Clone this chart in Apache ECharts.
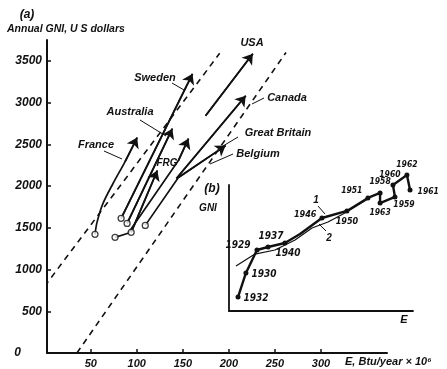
<!DOCTYPE html>
<html><head><meta charset="utf-8">
<script src="https://cdn.jsdelivr.net/npm/echarts@6/dist/echarts.min.js"></script>
<style>html,body{margin:0;padding:0;background:#fff}#c{width:447px;height:369px}</style>
</head><body><div id="c"></div>
<script>
// ---- main panel (a) ----
const yTicks = [0, 500, 1000, 1500, 2000, 2500, 3000, 3500];
const xTicks = [50, 100, 150, 200, 250, 300];

// country trajectories [E, GNI]; first point = start (circle), last = arrow head
const france = [[54.6,1422],[56.8,1565],[63.3,1792],[74.2,2031],[87.3,2294],[100.4,2581]];
const sweden = [[83.0,1613],[160.5,3345]];
const australia = [[89.5,1553],[138.6,2688]];
const frg = [[93.9,1446],[122.3,2186]];
const greatBritain = [[76.4,1386],[90.6,1434],[145.2,2306],[156.1,2569]];
const belgium = [[109.2,1529],[145.2,2103],[196.5,2485]];
const canada = [[143.0,2091],[218.3,3082]];
const usa = [[174.7,2843],[226.0,3584]];

// dashed band limits
const bandUpper = [[0,800],[190,3590]];
const bandLower = [[35,0],[262,3600]];

// ---- inset (b), relative units ----
const insetYears1 = ['1932','1930','1929','1937','1940','','1946','1950','1951','1958','1963','1959','1960','1962','1961'];
const insetCurve1 = [[4.9,11.1],[9.2,30.2],[15.2,48.4],[21.2,50.8],[30.4,54.0],[38.6,61.1],[50.5,73.8],[64.1,79.4],[75.5,89.7],[82.1,93.7],[82.1,85.7],[90.2,90.5],[89.1,100],[96.7,107.9],[98.4,96.0]];
const insetCurve2 = [[3.8,35.7],[14.1,45.2],[25.0,48.4],[35.9,56.3],[45.1,65.9],[53.8,70.6],[63.0,77.8],[75.5,88.9]];

// label placement (style only)
const yearLabelStyle = {
  '1932':{p:'right',o:[0,1],s:10}, '1930':{p:'right',o:[0,1],s:10}, '1929':{p:'left',o:[-1,-5],s:10},
  '1937':{p:'top',o:[3,0],s:10}, '1940':{p:'bottom',o:[3,0],s:10}, '1946':{p:'left',o:[0,-3],s:9},
  '1950':{p:'bottom',o:[0,1],s:9}, '1951':{p:'left',o:[0,-7],s:8.5}, '1958':{p:'top',o:[0,-1],s:8.5},
  '1963':{p:'bottom',o:[0,0],s:8.5}, '1959':{p:'bottom',o:[9,-2],s:8.5}, '1960':{p:'top',o:[-3,0],s:8.5},
  '1962':{p:'top',o:[0,0],s:8.5}, '1961':{p:'right',o:[2,2],s:8.5}
};

const FONT = '"Liberation Sans", Arial, sans-serif';
const NARROW = '"Liberation Sans Narrow", "DejaVu Sans Condensed", sans-serif';
const INK = '#111';

const arrows = [france, sweden, australia, frg, greatBritain, belgium, canada, usa];
const withCircle = [france, sweden, australia, frg, greatBritain, belgium];

const series = [];
series.push({type:'line', xAxisIndex:0, yAxisIndex:0, data:bandUpper, symbol:'none', silent:true,
  lineStyle:{color:INK, width:1.6, type:[6,5]}});
series.push({type:'line', xAxisIndex:0, yAxisIndex:0, data:bandLower, symbol:'none', silent:true,
  lineStyle:{color:INK, width:1.6, type:[6,5]}});
arrows.forEach(a => {
  series.push({type:'line', xAxisIndex:0, yAxisIndex:0, data:a, symbol:'none', silent:true,
    smooth: a === france ? 0.3 : false, lineStyle:{color:INK, width:1.7}});
});
series.push({type:'lines', coordinateSystem:'cartesian2d', xAxisIndex:0, yAxisIndex:0, silent:true,
  symbol:['none','arrow'], symbolSize:[1,10],
  lineStyle:{color:INK, width:1.7, opacity:1},
  data: arrows.map(a => ({coords:[a[a.length-2], a[a.length-1]]}))});
series.push({type:'scatter', xAxisIndex:0, yAxisIndex:0, silent:true, symbol:'circle', symbolSize:6, z:5,
  itemStyle:{color:'#fff', borderColor:INK, borderWidth:1.3},
  data: withCircle.map(a => a[0])});

// inset series
series.push({type:'line', xAxisIndex:1, yAxisIndex:1, clip:false, silent:true, symbol:'none',
  data: insetCurve2, lineStyle:{color:INK, width:1.2}});
series.push({type:'line', xAxisIndex:1, yAxisIndex:1, clip:false, silent:true,
  lineStyle:{color:INK, width:2.4},
  data: insetCurve1.map((v,i) => {
    const y = insetYears1[i];
    if (!y) return {value:v, symbol:'none'};
    const st = yearLabelStyle[y];
    return {value:v, symbol:'circle', symbolSize:5, itemStyle:{color:INK},
      label:{show:true, formatter:y, position:st.p, offset:st.o, distance:3,
        fontSize:st.s, fontStyle:'italic', fontWeight:'bold', fontFamily:NARROW, color:INK}};
  })});

function txt(x, y, s, opt) {
  return Object.assign({type:'text', x:x, y:y, silent:true, style:Object.assign({
    text:s, fill:INK, font:'italic bold 11px ' + FONT, textAlign:'center', textVerticalAlign:'middle'}, opt||{})});
}
function seg(x1,y1,x2,y2,w){
  return {type:'line', silent:true, shape:{x1,y1,x2,y2}, style:{stroke:INK, lineWidth:w||1}};
}

const graphics = [
  txt(27,15,'(a)',{font:'italic bold 12px '+FONT}),
  txt(7,29,'Annual GNI, U S dollars',{textAlign:'left', font:'italic bold 10.5px '+FONT}),
  txt(21,353,'0',{textAlign:'right', font:'italic bold 12px '+FONT}),
  txt(345,362,'E, Btu/year × 10⁶',{textAlign:'left', font:'italic bold 11px '+FONT}),
  txt(252,43,'USA'),
  txt(155,78,'Sweden'),
  txt(130,112,'Australia'),
  txt(96,145,'France'),
  txt(167,163,'FRG',{font:'italic bold 10px '+FONT}),
  txt(287,98,'Canada'),
  txt(278,133,'Great Britain'),
  txt(258,154,'Belgium'),
  txt(212,189,'(b)',{font:'italic bold 12px '+FONT}),
  txt(208,208,'GNI',{font:'italic bold 10px '+FONT}),
  txt(404,320,'E',{font:'italic bold 11px '+FONT}),
  txt(316,200,'1',{font:'italic bold 10px '+FONT}),
  txt(329,238,'2',{font:'italic bold 10px '+FONT}),
  seg(172,83,184,90), seg(140,120,166,136), seg(104,151,122,159),
  seg(252,104,264,98), seg(238,137,223,146), seg(233,154,210,164),
  seg(318,206,325,214), seg(326,231,319,224)
];

const chart = echarts.init(document.getElementById('c'), null, {renderer:'canvas'});
chart.setOption({
  animation:false,
  backgroundColor:'#fff',
  grid:[
    {left:47, top:40, width:340, height:313},
    {left:229, top:185, width:184, height:126}
  ],
  xAxis:[
    {type:'value', gridIndex:0, min:2.5, max:371.7, splitLine:{show:false},
      axisLine:{lineStyle:{color:INK, width:2}},
      axisTick:{show:true, inside:true, length:4, customValues:xTicks, lineStyle:{color:INK, width:1.5}},
      axisLabel:{customValues:xTicks, formatter:v => String(v), color:INK, fontSize:11, fontStyle:'italic', fontWeight:'bold', fontFamily:FONT, margin:5}},
    {type:'value', gridIndex:1, min:0, max:100, splitLine:{show:false},
      axisLine:{lineStyle:{color:INK, width:1.8}}, axisTick:{show:false}, axisLabel:{show:false}}
  ],
  yAxis:[
    {type:'value', gridIndex:0, min:0, max:3750, splitLine:{show:false},
      axisLine:{show:true, lineStyle:{color:INK, width:2}},
      axisTick:{show:true, inside:true, length:4, customValues:yTicks.slice(1), lineStyle:{color:INK, width:1.5}},
      axisLabel:{customValues:yTicks.slice(1), formatter:v => String(v), color:INK, fontSize:12, fontStyle:'italic', fontWeight:'bold', fontFamily:FONT, margin:5}},
    {type:'value', gridIndex:1, min:0, max:100, splitLine:{show:false},
      axisLine:{show:true, lineStyle:{color:INK, width:1.8}}, axisTick:{show:false}, axisLabel:{show:false}}
  ],
  series: series,
  graphic: graphics
});
</script></body></html>
